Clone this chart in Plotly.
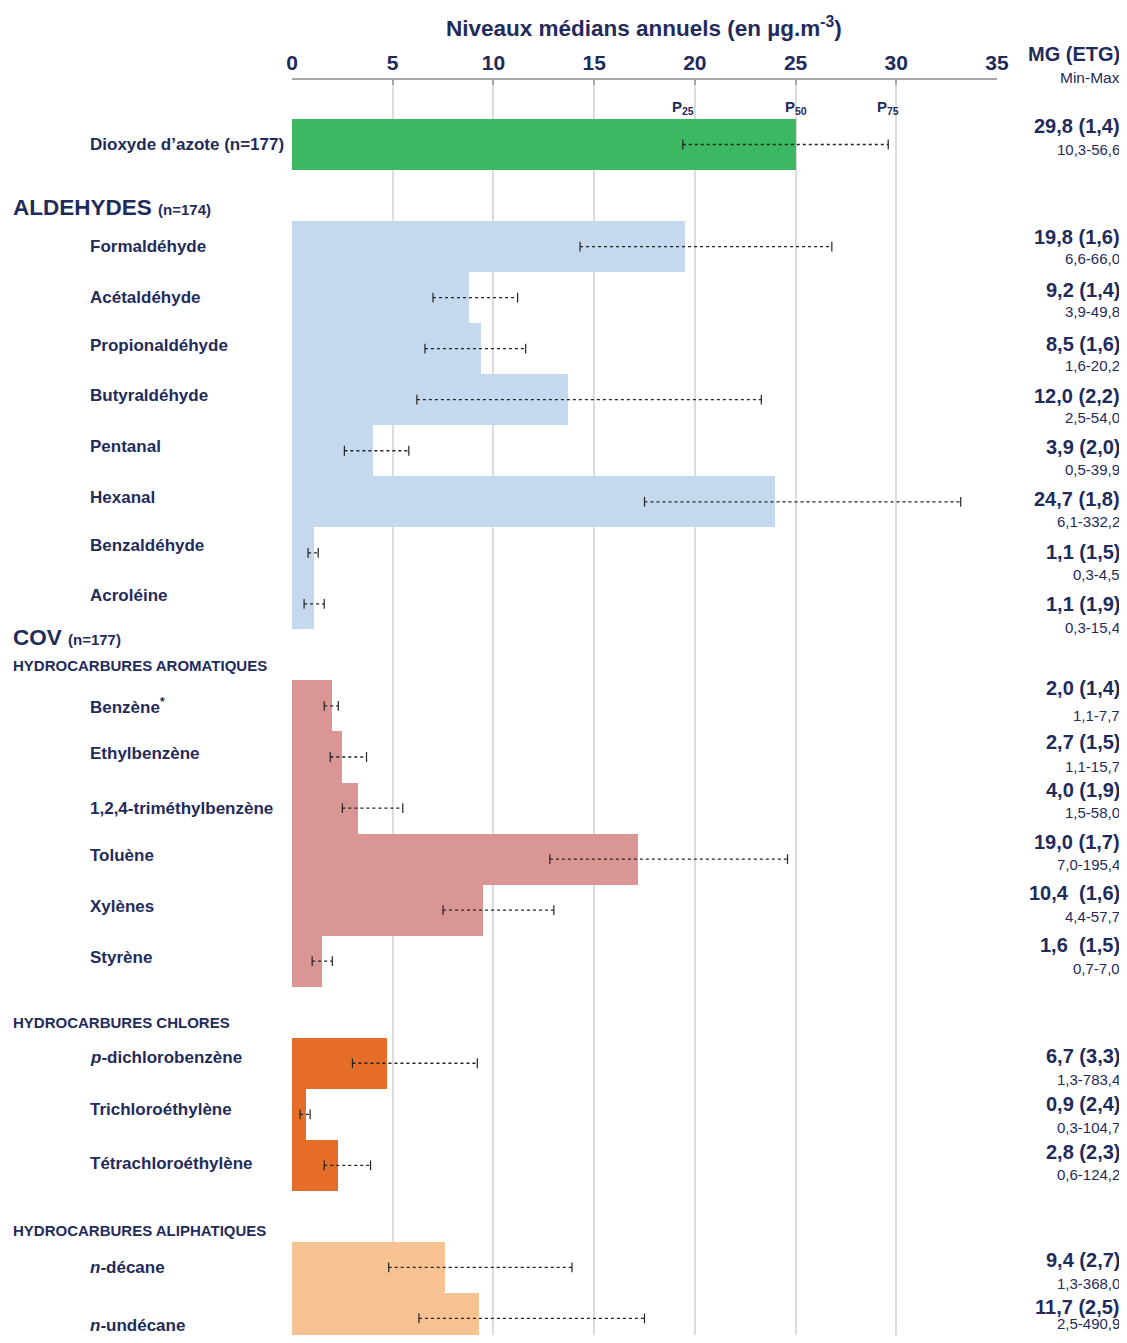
import plotly.graph_objects as go

# ---------------- data ----------------
names = ["Dioxyde d’azote (n=177)",
         "Formaldéhyde", "Acétaldéhyde", "Propionaldéhyde", "Butyraldéhyde",
         "Pentanal", "Hexanal", "Benzaldéhyde", "Acroléine",
         "Benzène<sup>*</sup>", "Ethylbenzène", "1,2,4-triméthylbenzène", "Toluène",
         "Xylènes", "Styrène",
         "<i>p</i>-dichlorobenzène", "Trichloroéthylène", "Tétrachloroéthylène",
         "<i>n</i>-décane", "<i>n</i>-undécane"]
groups = ["no2",
          "ald", "ald", "ald", "ald", "ald", "ald", "ald", "ald",
          "aro", "aro", "aro", "aro", "aro", "aro",
          "chl", "chl", "chl",
          "ali", "ali"]
medians = [25.0,
           19.5, 8.8, 9.4, 13.7, 4.0, 24.0, 1.1, 1.1,
           2.0, 2.5, 3.3, 17.2, 9.5, 1.5,
           4.7, 0.7, 2.3,
           7.6, 9.3]
p25 = [19.4,
       14.3, 7.0, 6.6, 6.2, 2.6, 17.5, 0.8, 0.6,
       1.6, 1.9, 2.5, 12.8, 7.5, 1.0,
       3.0, 0.4, 1.6,
       4.8, 6.3]
p75 = [29.6,
       26.8, 11.2, 11.6, 23.3, 5.8, 33.2, 1.3, 1.6,
       2.3, 3.7, 5.5, 24.6, 13.0, 2.0,
       9.2, 0.9, 3.9,
       13.9, 17.5]
mg = ["29,8 (1,4)",
      "19,8 (1,6)", "9,2 (1,4)", "8,5 (1,6)", "12,0 (2,2)", "3,9 (2,0)",
      "24,7 (1,8)", "1,1 (1,5)", "1,1 (1,9)",
      "2,0 (1,4)", "2,7 (1,5)", "4,0 (1,9)", "19,0 (1,7)", "10,4  (1,6)", "1,6  (1,5)",
      "6,7 (3,3)", "0,9 (2,4)", "2,8 (2,3)",
      "9,4 (2,7)", "11,7 (2,5)"]
minmax = ["10,3-56,6",
          "6,6-66,0", "3,9-49,8", "1,6-20,2", "2,5-54,0", "0,5-39,9",
          "6,1-332,2", "0,3-4,5", "0,3-15,4",
          "1,1-7,7", "1,1-15,7", "1,5-58,0", "7,0-195,4", "4,4-57,7", "0,7-7,0",
          "1,3-783,4", "0,3-104,7", "0,6-124,2",
          "1,3-368,0", "2,5-490,9"]
x_ticks = [0, 5, 10, 15, 20, 25, 30, 35]

# ---------------- layout / style ----------------
PAGE_W, PAGE_H = 1127, 1343
OFF = 8                      # default body margin of the page
W, H = PAGE_W - 2 * OFF, PAGE_H - 2 * OFF
PL, PR, PT = 292, 997, 80    # plot area in page pixels
PB = OFF + H                 # bottom of figure in page pixels
ML, MR, MT, MB = PL - OFF, W - (PR - OFF), PT - OFF, 0
PLOT_H = PB - PT
SLOT_PX = 51.04
NAVY = "#1F2B5B"
FONT = "Liberation Sans"
NARROW = "Liberation Sans Narrow, Liberation Sans, Arial"
colors = {"no2": "#3DB862", "ald": "#C5D9EE", "aro": "#DA9695",
          "chl": "#E56D27", "ali": "#F7C291"}

# slot index of each row (empty slots hold the section headings)
slots = [0] + list(range(2, 10)) + list(range(11, 17)) + list(range(18, 21)) + [22, 23]
FIRST_SLOT_TOP = 119
Y_TOP = -0.5 - (FIRST_SLOT_TOP - PT) / SLOT_PX
Y_BOT = Y_TOP + PLOT_H / SLOT_PX

# pixel fine-tuning of texts relative to each row centre
label_dy = [0, 0, 0, -3, -4, -4, -4, -7, -8, 0, -4, 0, -4, -4, -4, -6, -5, -2, 0, 7]
mg_dy = [-19, -10, -8, -5, -4, -4, -3, -1, 0, -18, -15, -18, -17, -17, -16, -7, -10, -13, -7, -11]
mm_dy = [5, 12, 14, 17, 18, 19, 20, 22, 24, 10, 9, 4, 5, 6, 7, 16, 13, 9, 16, 5]
RIGHT_X = 1122


def py(p):
    """page pixel row -> paper y"""
    return 1 - (p - PT) / PLOT_H


def px(p):
    """page pixel column -> paper x"""
    return (p - PL) / (PR - PL)


fig = go.Figure()

for g in ["no2", "ald", "aro", "chl", "ali"]:
    idx = [i for i, gg in enumerate(groups) if gg == g]
    fig.add_trace(go.Bar(
        x=[medians[i] for i in idx], y=[slots[i] for i in idx],
        orientation="h", width=1.0, marker=dict(color=colors[g], line=dict(width=0)),
        showlegend=False, hoverinfo="x"))

# P25-P75 dotted ranges
ex, ey = [], []
for i in range(len(names)):
    ex += [p25[i], p75[i], None]
    ey += [slots[i], slots[i], None]
fig.add_trace(go.Scatter(
    x=ex, y=ey, mode="lines+markers",
    line=dict(color="#222222", width=1.3, dash="dot"),
    marker=dict(symbol="line-ns-open", size=7, line=dict(color="#222222", width=1.2)),
    showlegend=False, hoverinfo="skip", cliponaxis=False))

ann = []
# compound labels and right-hand values
for i, n in enumerate(names):
    ann.append(dict(x=px(88), xref="paper", y=slots[i], yref="y", yshift=-label_dy[i],
                    text=n, showarrow=False, xanchor="left", yanchor="middle",
                    font=dict(family=FONT, size=17, color=NAVY, weight="bold")))
    ann.append(dict(x=px(RIGHT_X), xref="paper", y=slots[i], yref="y", yshift=-mg_dy[i],
                    text=mg[i], showarrow=False, xanchor="right", yanchor="middle",
                    font=dict(family=FONT, size=20, color=NAVY, weight="bold")))
    ann.append(dict(x=px(RIGHT_X), xref="paper", y=slots[i], yref="y", yshift=-mm_dy[i],
                    text=minmax[i], showarrow=False, xanchor="right", yanchor="middle",
                    font=dict(family=FONT, size=15, color=NAVY)))

# section headings
heads = [("ALDEHYDES <span style='font-size:15px'>(n=174)</span>", 208, 22.5),
         ("COV <span style='font-size:15px'>(n=177)</span>", 637, 22.5),
         ("HYDROCARBURES AROMATIQUES", 665, 15),
         ("HYDROCARBURES CHLORES", 1023, 15),
         ("HYDROCARBURES ALIPHATIQUES", 1230, 15)]
for t, p, s in heads:
    ann.append(dict(x=px(11), xref="paper", y=py(p), yref="paper", text=t,
                    showarrow=False, xanchor="left", yanchor="middle",
                    font=dict(family=FONT, size=s, color=NAVY, weight="bold")))

# title and right header
ann.append(dict(x=px(644), xref="paper", y=py(27), yref="paper",
                text="Niveaux médians annuels (en µg.m<sup>-3</sup>)", showarrow=False,
                xanchor="center", yanchor="middle",
                font=dict(family=NARROW, size=22.5, color=NAVY, weight="bold")))
ann.append(dict(x=px(RIGHT_X), xref="paper", y=py(54), yref="paper", text="MG (ETG)",
                showarrow=False, xanchor="right", yanchor="middle",
                font=dict(family=NARROW, size=20, color=NAVY, weight="bold")))
ann.append(dict(x=px(RIGHT_X), xref="paper", y=py(77), yref="paper", text="Min-Max",
                showarrow=False, xanchor="right", yanchor="middle",
                font=dict(family=NARROW, size=15.5, color=NAVY)))

# percentile markers above NO2 bar
for lab, xv in [("P<sub>25</sub>", p25[0]), ("P<sub>50</sub>", medians[0]), ("P<sub>75</sub>", p75[0])]:
    ann.append(dict(x=xv, xref="x", y=py(107), yref="paper", text=lab, showarrow=False,
                    xanchor="center", yanchor="middle",
                    font=dict(family=NARROW, size=15, color=NAVY, weight="bold")))

fig.update_layout(
    width=W, height=H, margin=dict(l=ML, r=MR, t=MT, b=MB),
    paper_bgcolor="white", plot_bgcolor="white", barmode="overlay", bargap=0,
    annotations=ann,
    xaxis=dict(range=[0, 35], side="top", tickvals=x_ticks, ticktext=[str(v) for v in x_ticks],
               showgrid=True, gridcolor="#DCDCDC", gridwidth=2, zeroline=False,
               showline=True, linecolor="#A6A6A6", linewidth=2,
               ticks="inside", ticklen=5, tickcolor="#A6A6A6", tickwidth=1.5,
               tickfont=dict(family=NARROW, size=21, color=NAVY, weight="bold"),
               fixedrange=True),
    yaxis=dict(range=[Y_BOT, Y_TOP], showticklabels=False, showgrid=False,
               zeroline=False, showline=False, ticks="", fixedrange=True),
)

fig.write_html("out.html")
